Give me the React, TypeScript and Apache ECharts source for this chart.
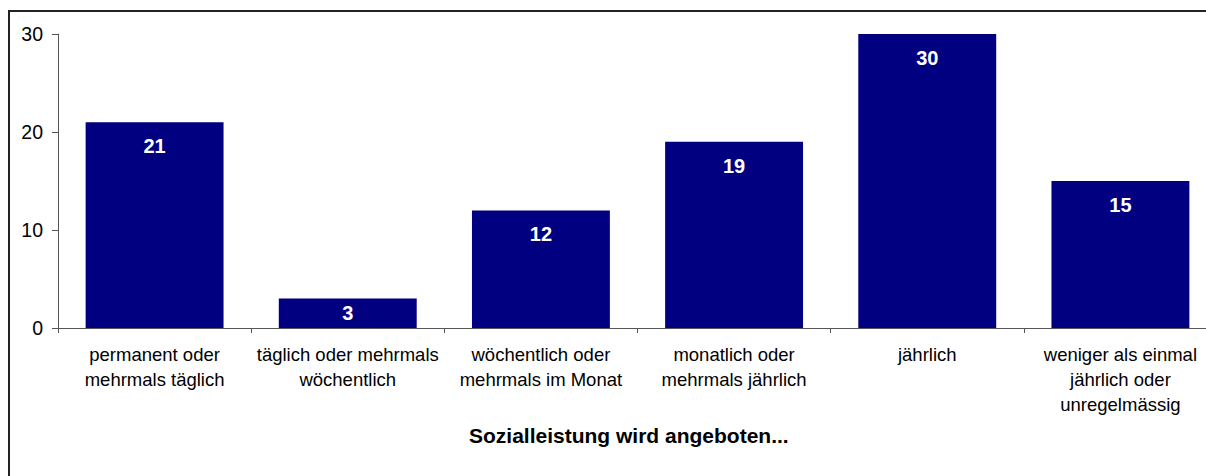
import React, { useEffect, useRef } from "react";
import * as echarts from "echarts";

const categories = [
  "permanent oder\nmehrmals täglich",
  "täglich oder mehrmals\nwöchentlich",
  "wöchentlich oder\nmehrmals im Monat",
  "monatlich oder\nmehrmals jährlich",
  "jährlich",
  "weniger als einmal\njährlich oder\nunregelmässig",
];
const values = [21, 3, 12, 19, 30, 15];
const axisTitle = "Sozialleistung wird angeboten...";

const FONT = "'Liberation Sans', Arial, sans-serif";

export default function App() {
  const ref = useRef<HTMLDivElement>(null);
  useEffect(() => {
    if (!ref.current) return;
    const chart = echarts.init(ref.current, undefined, { renderer: "svg" });
    chart.setOption({
      animation: false,
      textStyle: { fontFamily: FONT },
      grid: { left: 58, top: 34, width: 1159, height: 294 },
      xAxis: {
        type: "category",
        data: categories,
        axisLine: { show: true, lineStyle: { color: "#555", width: 1 } },
        axisTick: { show: true, alignWithLabel: false, length: 5, lineStyle: { color: "#555" } },
        axisLabel: {
          interval: 0,
          color: "#000",
          fontSize: 18.5,
          lineHeight: 25,
          margin: 14,
          fontFamily: FONT,
          align: "center",
        },
        splitLine: { show: false },
      },
      yAxis: {
        type: "value",
        min: 0,
        max: 30,
        interval: 10,
        axisLine: { show: true, lineStyle: { color: "#555", width: 1 } },
        axisTick: { show: true, length: 6, lineStyle: { color: "#555" } },
        axisLabel: { color: "#000", fontSize: 19.5, margin: 15, fontFamily: FONT },
        splitLine: { show: false },
      },
      series: [
        {
          type: "bar",
          barCategoryGap: "28.6%",
          itemStyle: { color: "#000080" },
          label: {
            show: true,
            position: "insideTop",
            distance: 14,
            color: "#fff",
            fontSize: 20,
            fontWeight: "bold",
            fontFamily: FONT,
          },
          data: values.map((v) =>
            v < 5 ? { value: v, label: { position: "inside" } } : v
          ),
        },
      ],
      graphic: [
        {
          type: "text",
          left: 639 - 170,
          top: 425,
          style: {
            text: axisTitle,
            fontSize: 21,
            fontWeight: "bold",
            fontFamily: FONT,
            fill: "#000",
          },
        },
      ],
    });
    return () => chart.dispose();
  }, []);

  return (
    <div
      style={{
        position: "fixed",
        left: 0,
        top: 0,
        width: 1206,
        height: 476,
        overflow: "hidden",
        background: "#fff",
      }}
    >
      <div
        style={{
          position: "absolute",
          left: 8,
          top: 10,
          width: 1198,
          height: 2,
          background: "#222",
        }}
      />
      <div
        style={{
          position: "absolute",
          left: 8,
          top: 10,
          width: 2,
          height: 466,
          background: "#222",
        }}
      />
      <div
        ref={ref}
        style={{ position: "absolute", left: 0, top: 0, width: 1240, height: 476 }}
      />
    </div>
  );
}
